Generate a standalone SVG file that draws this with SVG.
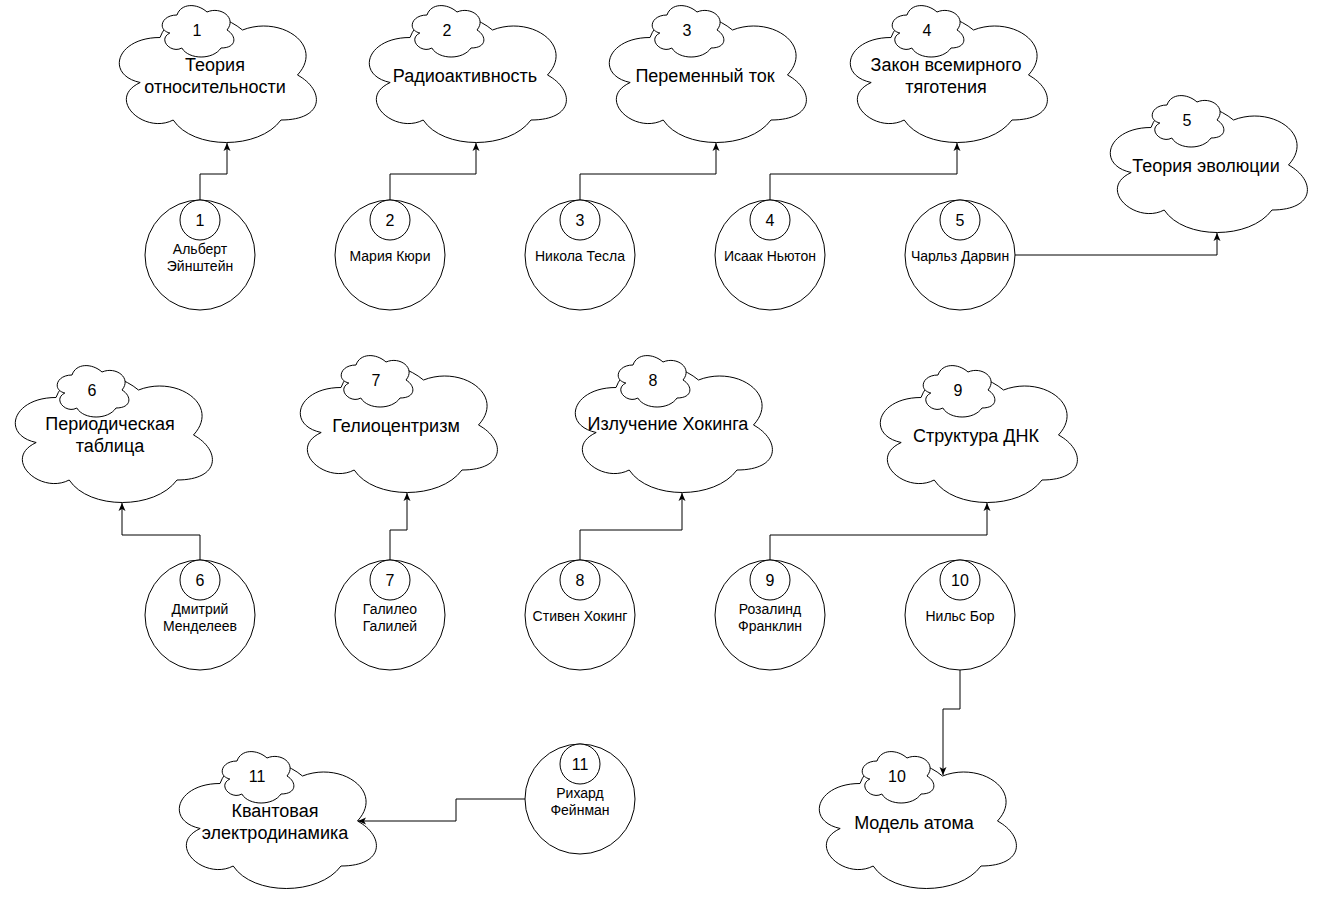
<svg xmlns="http://www.w3.org/2000/svg" width="1317" height="898" viewBox="0 0 1317 898">
<defs>
<marker id="arrow" markerUnits="userSpaceOnUse" markerWidth="10" markerHeight="10" viewBox="0 0 10 10" refX="9" refY="5" orient="auto"><path d="M1,1.5 L9,5 L1,8.5 L3,5 Z" fill="#000"/></marker>
</defs>
<style>
.cloud{fill:#fff;stroke:#000;stroke-width:1}
.circ{fill:#fff;stroke:#000;stroke-width:1}
text{font-family:"Liberation Sans",Arial,sans-serif;text-anchor:middle;fill:#000}
.title{font-size:18px}
.num{font-size:16px}
.name{font-size:14px}
.edge{fill:none;stroke:#000;stroke-width:1;marker-end:url(#arrow)}
</style>
<rect width="1317" height="898" fill="#fff"/>

<g id="idea1">
<path class="cloud" vector-effect="non-scaling-stroke" transform="translate(105,0) scale(220,150)" d="M0.25,0.25C0.05,0.25,0,0.5,0.16,0.55C0,0.66,0.18,0.9,0.31,0.8C0.4,1,0.7,1,0.8,0.8C1,0.8,1,0.6,0.875,0.5C1,0.3,0.8,0.1,0.625,0.2C0.5,0.05,0.3,0.05,0.25,0.25Z"/>
<path class="cloud" vector-effect="non-scaling-stroke" transform="translate(157,0) scale(80,60)" d="M0.25,0.25C0.05,0.25,0,0.5,0.16,0.55C0,0.66,0.18,0.9,0.31,0.8C0.4,1,0.7,1,0.8,0.8C1,0.8,1,0.6,0.875,0.5C1,0.3,0.8,0.1,0.625,0.2C0.5,0.05,0.3,0.05,0.25,0.25Z"/>
<text class="num" x="197" y="36">1</text>
<text class="title" x="215" y="71">Теория</text>
<text class="title" x="215" y="93">относительности</text>
</g>
<g id="idea2">
<path class="cloud" vector-effect="non-scaling-stroke" transform="translate(355,0) scale(220,150)" d="M0.25,0.25C0.05,0.25,0,0.5,0.16,0.55C0,0.66,0.18,0.9,0.31,0.8C0.4,1,0.7,1,0.8,0.8C1,0.8,1,0.6,0.875,0.5C1,0.3,0.8,0.1,0.625,0.2C0.5,0.05,0.3,0.05,0.25,0.25Z"/>
<path class="cloud" vector-effect="non-scaling-stroke" transform="translate(407,0) scale(80,60)" d="M0.25,0.25C0.05,0.25,0,0.5,0.16,0.55C0,0.66,0.18,0.9,0.31,0.8C0.4,1,0.7,1,0.8,0.8C1,0.8,1,0.6,0.875,0.5C1,0.3,0.8,0.1,0.625,0.2C0.5,0.05,0.3,0.05,0.25,0.25Z"/>
<text class="num" x="447" y="36">2</text>
<text class="title" x="465" y="82">Радиоактивность</text>
</g>
<g id="idea3">
<path class="cloud" vector-effect="non-scaling-stroke" transform="translate(595,0) scale(220,150)" d="M0.25,0.25C0.05,0.25,0,0.5,0.16,0.55C0,0.66,0.18,0.9,0.31,0.8C0.4,1,0.7,1,0.8,0.8C1,0.8,1,0.6,0.875,0.5C1,0.3,0.8,0.1,0.625,0.2C0.5,0.05,0.3,0.05,0.25,0.25Z"/>
<path class="cloud" vector-effect="non-scaling-stroke" transform="translate(647,0) scale(80,60)" d="M0.25,0.25C0.05,0.25,0,0.5,0.16,0.55C0,0.66,0.18,0.9,0.31,0.8C0.4,1,0.7,1,0.8,0.8C1,0.8,1,0.6,0.875,0.5C1,0.3,0.8,0.1,0.625,0.2C0.5,0.05,0.3,0.05,0.25,0.25Z"/>
<text class="num" x="687" y="36">3</text>
<text class="title" x="705" y="82">Переменный ток</text>
</g>
<g id="idea4">
<path class="cloud" vector-effect="non-scaling-stroke" transform="translate(836,0) scale(220,150)" d="M0.25,0.25C0.05,0.25,0,0.5,0.16,0.55C0,0.66,0.18,0.9,0.31,0.8C0.4,1,0.7,1,0.8,0.8C1,0.8,1,0.6,0.875,0.5C1,0.3,0.8,0.1,0.625,0.2C0.5,0.05,0.3,0.05,0.25,0.25Z"/>
<path class="cloud" vector-effect="non-scaling-stroke" transform="translate(887,0) scale(80,60)" d="M0.25,0.25C0.05,0.25,0,0.5,0.16,0.55C0,0.66,0.18,0.9,0.31,0.8C0.4,1,0.7,1,0.8,0.8C1,0.8,1,0.6,0.875,0.5C1,0.3,0.8,0.1,0.625,0.2C0.5,0.05,0.3,0.05,0.25,0.25Z"/>
<text class="num" x="927" y="36">4</text>
<text class="title" x="946" y="71">Закон всемирного</text>
<text class="title" x="946" y="93">тяготения</text>
</g>
<g id="idea5">
<path class="cloud" vector-effect="non-scaling-stroke" transform="translate(1096,90) scale(220,150)" d="M0.25,0.25C0.05,0.25,0,0.5,0.16,0.55C0,0.66,0.18,0.9,0.31,0.8C0.4,1,0.7,1,0.8,0.8C1,0.8,1,0.6,0.875,0.5C1,0.3,0.8,0.1,0.625,0.2C0.5,0.05,0.3,0.05,0.25,0.25Z"/>
<path class="cloud" vector-effect="non-scaling-stroke" transform="translate(1147,90) scale(80,60)" d="M0.25,0.25C0.05,0.25,0,0.5,0.16,0.55C0,0.66,0.18,0.9,0.31,0.8C0.4,1,0.7,1,0.8,0.8C1,0.8,1,0.6,0.875,0.5C1,0.3,0.8,0.1,0.625,0.2C0.5,0.05,0.3,0.05,0.25,0.25Z"/>
<text class="num" x="1187" y="126">5</text>
<text class="title" x="1206" y="172">Теория эволюции</text>
</g>
<g id="idea6">
<path class="cloud" vector-effect="non-scaling-stroke" transform="translate(1,360) scale(220,150)" d="M0.25,0.25C0.05,0.25,0,0.5,0.16,0.55C0,0.66,0.18,0.9,0.31,0.8C0.4,1,0.7,1,0.8,0.8C1,0.8,1,0.6,0.875,0.5C1,0.3,0.8,0.1,0.625,0.2C0.5,0.05,0.3,0.05,0.25,0.25Z"/>
<path class="cloud" vector-effect="non-scaling-stroke" transform="translate(52,360) scale(80,60)" d="M0.25,0.25C0.05,0.25,0,0.5,0.16,0.55C0,0.66,0.18,0.9,0.31,0.8C0.4,1,0.7,1,0.8,0.8C1,0.8,1,0.6,0.875,0.5C1,0.3,0.8,0.1,0.625,0.2C0.5,0.05,0.3,0.05,0.25,0.25Z"/>
<text class="num" x="92" y="396">6</text>
<text class="title" x="110" y="430">Периодическая</text>
<text class="title" x="110" y="452">таблица</text>
</g>
<g id="idea7">
<path class="cloud" vector-effect="non-scaling-stroke" transform="translate(286,350) scale(220,150)" d="M0.25,0.25C0.05,0.25,0,0.5,0.16,0.55C0,0.66,0.18,0.9,0.31,0.8C0.4,1,0.7,1,0.8,0.8C1,0.8,1,0.6,0.875,0.5C1,0.3,0.8,0.1,0.625,0.2C0.5,0.05,0.3,0.05,0.25,0.25Z"/>
<path class="cloud" vector-effect="non-scaling-stroke" transform="translate(336,350) scale(80,60)" d="M0.25,0.25C0.05,0.25,0,0.5,0.16,0.55C0,0.66,0.18,0.9,0.31,0.8C0.4,1,0.7,1,0.8,0.8C1,0.8,1,0.6,0.875,0.5C1,0.3,0.8,0.1,0.625,0.2C0.5,0.05,0.3,0.05,0.25,0.25Z"/>
<text class="num" x="376" y="386">7</text>
<text class="title" x="396" y="432">Гелиоцентризм</text>
</g>
<g id="idea8">
<path class="cloud" vector-effect="non-scaling-stroke" transform="translate(561,350) scale(220,150)" d="M0.25,0.25C0.05,0.25,0,0.5,0.16,0.55C0,0.66,0.18,0.9,0.31,0.8C0.4,1,0.7,1,0.8,0.8C1,0.8,1,0.6,0.875,0.5C1,0.3,0.8,0.1,0.625,0.2C0.5,0.05,0.3,0.05,0.25,0.25Z"/>
<path class="cloud" vector-effect="non-scaling-stroke" transform="translate(613,350) scale(80,60)" d="M0.25,0.25C0.05,0.25,0,0.5,0.16,0.55C0,0.66,0.18,0.9,0.31,0.8C0.4,1,0.7,1,0.8,0.8C1,0.8,1,0.6,0.875,0.5C1,0.3,0.8,0.1,0.625,0.2C0.5,0.05,0.3,0.05,0.25,0.25Z"/>
<text class="num" x="653" y="386">8</text>
<text class="title" x="668" y="430">Излучение Хокинга</text>
</g>
<g id="idea9">
<path class="cloud" vector-effect="non-scaling-stroke" transform="translate(866,360) scale(220,150)" d="M0.25,0.25C0.05,0.25,0,0.5,0.16,0.55C0,0.66,0.18,0.9,0.31,0.8C0.4,1,0.7,1,0.8,0.8C1,0.8,1,0.6,0.875,0.5C1,0.3,0.8,0.1,0.625,0.2C0.5,0.05,0.3,0.05,0.25,0.25Z"/>
<path class="cloud" vector-effect="non-scaling-stroke" transform="translate(918,360) scale(80,60)" d="M0.25,0.25C0.05,0.25,0,0.5,0.16,0.55C0,0.66,0.18,0.9,0.31,0.8C0.4,1,0.7,1,0.8,0.8C1,0.8,1,0.6,0.875,0.5C1,0.3,0.8,0.1,0.625,0.2C0.5,0.05,0.3,0.05,0.25,0.25Z"/>
<text class="num" x="958" y="396">9</text>
<text class="title" x="976" y="442">Структура ДНК</text>
</g>
<g id="idea10">
<path class="cloud" vector-effect="non-scaling-stroke" transform="translate(805,746) scale(220,150)" d="M0.25,0.25C0.05,0.25,0,0.5,0.16,0.55C0,0.66,0.18,0.9,0.31,0.8C0.4,1,0.7,1,0.8,0.8C1,0.8,1,0.6,0.875,0.5C1,0.3,0.8,0.1,0.625,0.2C0.5,0.05,0.3,0.05,0.25,0.25Z"/>
<path class="cloud" vector-effect="non-scaling-stroke" transform="translate(857,746) scale(80,60)" d="M0.25,0.25C0.05,0.25,0,0.5,0.16,0.55C0,0.66,0.18,0.9,0.31,0.8C0.4,1,0.7,1,0.8,0.8C1,0.8,1,0.6,0.875,0.5C1,0.3,0.8,0.1,0.625,0.2C0.5,0.05,0.3,0.05,0.25,0.25Z"/>
<text class="num" x="897" y="782">10</text>
<text class="title" x="914" y="829">Модель атома</text>
</g>
<g id="idea11">
<path class="cloud" vector-effect="non-scaling-stroke" transform="translate(165,746) scale(220,150)" d="M0.25,0.25C0.05,0.25,0,0.5,0.16,0.55C0,0.66,0.18,0.9,0.31,0.8C0.4,1,0.7,1,0.8,0.8C1,0.8,1,0.6,0.875,0.5C1,0.3,0.8,0.1,0.625,0.2C0.5,0.05,0.3,0.05,0.25,0.25Z"/>
<path class="cloud" vector-effect="non-scaling-stroke" transform="translate(217,746) scale(80,60)" d="M0.25,0.25C0.05,0.25,0,0.5,0.16,0.55C0,0.66,0.18,0.9,0.31,0.8C0.4,1,0.7,1,0.8,0.8C1,0.8,1,0.6,0.875,0.5C1,0.3,0.8,0.1,0.625,0.2C0.5,0.05,0.3,0.05,0.25,0.25Z"/>
<text class="num" x="257" y="782">11</text>
<text class="title" x="275" y="817">Квантовая</text>
<text class="title" x="275" y="839">электродинамика</text>
</g>

<g id="person1"><circle class="circ" cx="200" cy="255" r="55"/><circle class="circ" cx="200" cy="220" r="20"/><text class="num" x="200" y="226">1</text><text class="name" x="200" y="254">Альберт</text><text class="name" x="200" y="271">Эйнштейн</text></g>
<g id="person2"><circle class="circ" cx="390" cy="255" r="55"/><circle class="circ" cx="390" cy="220" r="20"/><text class="num" x="390" y="226">2</text><text class="name" x="390" y="261">Мария Кюри</text></g>
<g id="person3"><circle class="circ" cx="580" cy="255" r="55"/><circle class="circ" cx="580" cy="220" r="20"/><text class="num" x="580" y="226">3</text><text class="name" x="580" y="261">Никола Тесла</text></g>
<g id="person4"><circle class="circ" cx="770" cy="255" r="55"/><circle class="circ" cx="770" cy="220" r="20"/><text class="num" x="770" y="226">4</text><text class="name" x="770" y="261">Исаак Ньютон</text></g>
<g id="person5"><circle class="circ" cx="960" cy="255" r="55"/><circle class="circ" cx="960" cy="220" r="20"/><text class="num" x="960" y="226">5</text><text class="name" x="960" y="261">Чарльз Дарвин</text></g>
<g id="person6"><circle class="circ" cx="200" cy="615" r="55"/><circle class="circ" cx="200" cy="580" r="20"/><text class="num" x="200" y="586">6</text><text class="name" x="200" y="614">Дмитрий</text><text class="name" x="200" y="631">Менделеев</text></g>
<g id="person7"><circle class="circ" cx="390" cy="615" r="55"/><circle class="circ" cx="390" cy="580" r="20"/><text class="num" x="390" y="586">7</text><text class="name" x="390" y="614">Галилео</text><text class="name" x="390" y="631">Галилей</text></g>
<g id="person8"><circle class="circ" cx="580" cy="615" r="55"/><circle class="circ" cx="580" cy="580" r="20"/><text class="num" x="580" y="586">8</text><text class="name" x="580" y="621">Стивен Хокинг</text></g>
<g id="person9"><circle class="circ" cx="770" cy="615" r="55"/><circle class="circ" cx="770" cy="580" r="20"/><text class="num" x="770" y="586">9</text><text class="name" x="770" y="614">Розалинд</text><text class="name" x="770" y="631">Франклин</text></g>
<g id="person10"><circle class="circ" cx="960" cy="615" r="55"/><circle class="circ" cx="960" cy="580" r="20"/><text class="num" x="960" y="586">10</text><text class="name" x="960" y="621">Нильс Бор</text></g>
<g id="person11"><circle class="circ" cx="580" cy="799" r="55"/><circle class="circ" cx="580" cy="764" r="20"/><text class="num" x="580" y="770">11</text><text class="name" x="580" y="798">Рихард</text><text class="name" x="580" y="815">Фейнман</text></g>

<g id="connectors">
<path class="edge" d="M200,200 V174 H227 V143"/>
<path class="edge" d="M390,200 V174 H476 V143"/>
<path class="edge" d="M580,200 V174 H716 V143"/>
<path class="edge" d="M770,200 V174 H957 V143"/>
<path class="edge" d="M1015,255 H1217 V233"/>
<path class="edge" d="M200,560 V535 H122 V503"/>
<path class="edge" d="M390,560 V530 H407 V493"/>
<path class="edge" d="M580,560 V530 H682 V493"/>
<path class="edge" d="M770,560 V535 H987 V503"/>
<path class="edge" d="M960,670 V709 H943 V775"/>
<path class="edge" d="M525,799 H456 V821 H358"/>
</g>
</svg>
